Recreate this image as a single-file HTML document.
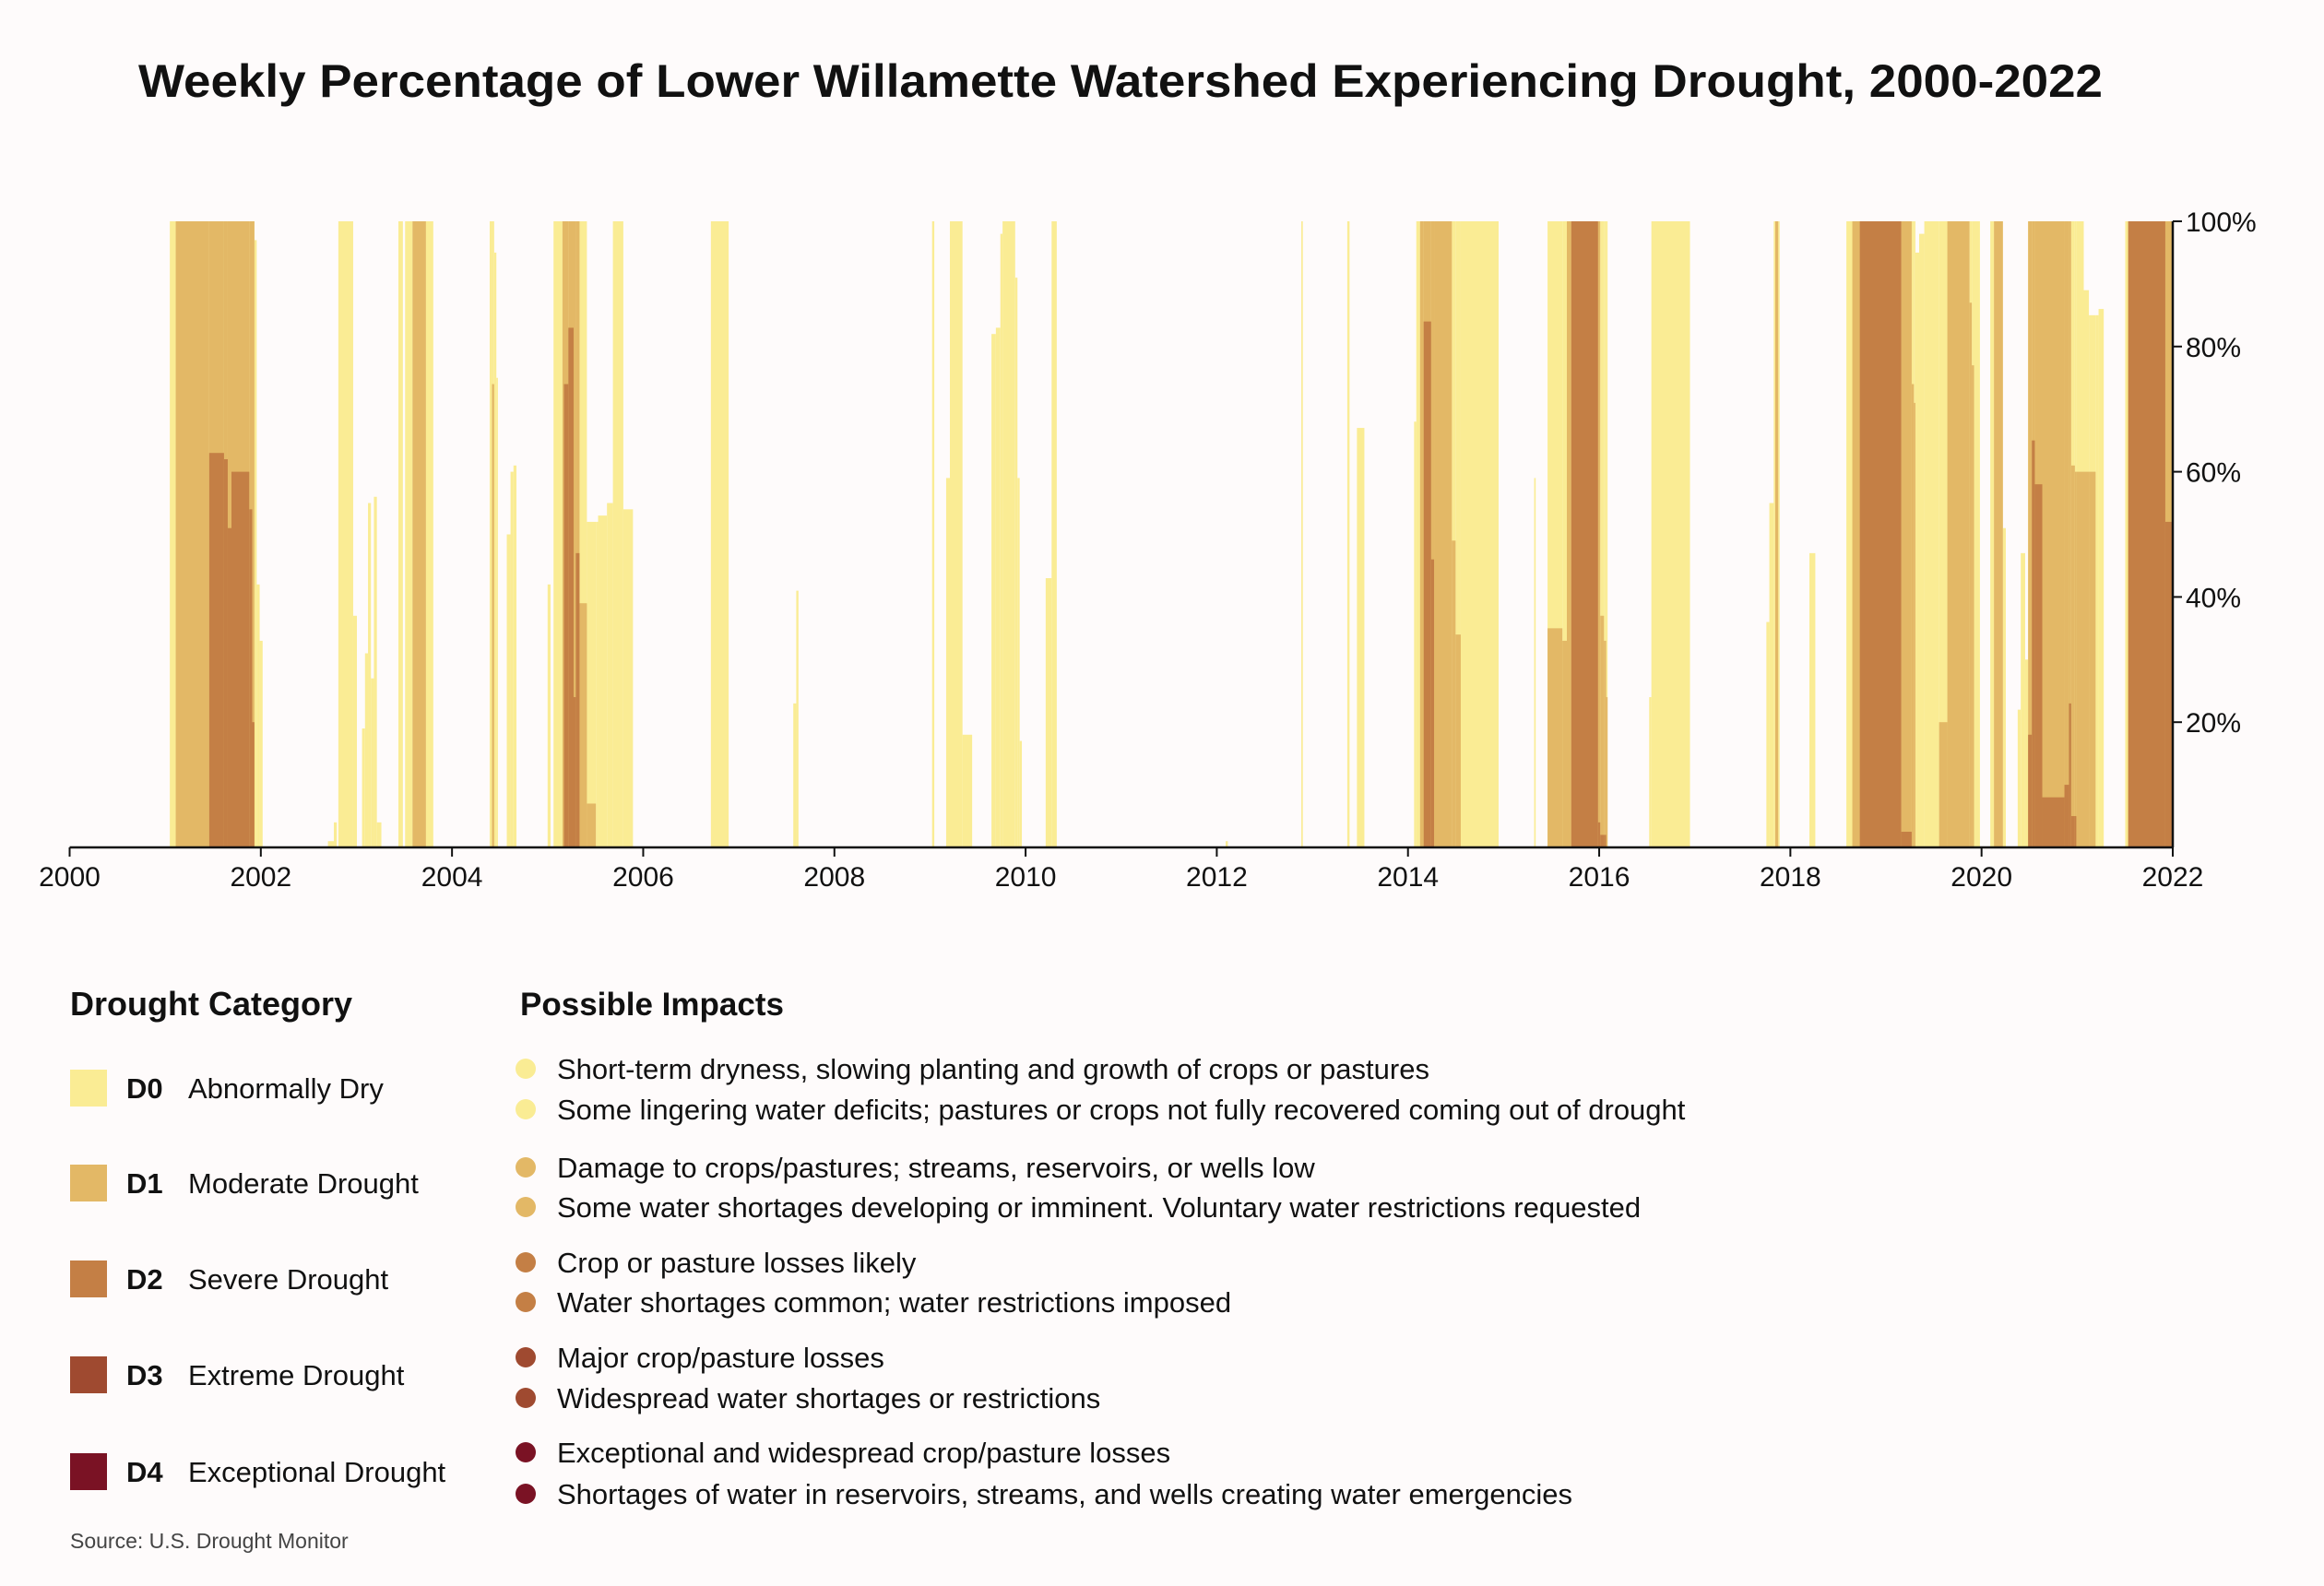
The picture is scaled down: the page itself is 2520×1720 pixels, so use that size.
<!DOCTYPE html>
<html><head><meta charset="utf-8">
<style>
html,body{margin:0;padding:0;background:#fefbfb;}
svg{display:block;font-family:"Liberation Sans",sans-serif;}
</style></head>
<body>
<svg id="chart" width="2520" height="1720" viewBox="0 0 2520 1720" xmlns="http://www.w3.org/2000/svg">
<rect x="0" y="0" width="2520" height="1720" fill="#fefbfb"/>
<text x="1215" y="105" text-anchor="middle" font-size="50" font-weight="bold" fill="#111" textLength="2130" lengthAdjust="spacingAndGlyphs">Weekly Percentage of Lower Willamette Watershed Experiencing Drought, 2000-2022</text>
<g id="bars"></g>
<g id="axes"></g>

<text x="76" y="1101" font-size="36" font-weight="bold" fill="#111">Drought Category</text>
<g><rect x="76" y="1160" width="40" height="40" fill="#faec94"/><text x="137" y="1191" font-size="31" font-weight="bold" fill="#111">D0</text><text x="204" y="1191" font-size="31" fill="#111">Abnormally Dry</text></g>
<g><rect x="76" y="1263" width="40" height="40" fill="#e3b866"/><text x="137" y="1294" font-size="31" font-weight="bold" fill="#111">D1</text><text x="204" y="1294" font-size="31" fill="#111">Moderate Drought</text></g>
<g><rect x="76" y="1367" width="40" height="40" fill="#c47f45"/><text x="137" y="1398" font-size="31" font-weight="bold" fill="#111">D2</text><text x="204" y="1398" font-size="31" fill="#111">Severe Drought</text></g>
<g><rect x="76" y="1471" width="40" height="40" fill="#9f4a30"/><text x="137" y="1502" font-size="31" font-weight="bold" fill="#111">D3</text><text x="204" y="1502" font-size="31" fill="#111">Extreme Drought</text></g>
<g><rect x="76" y="1576" width="40" height="40" fill="#7a1224"/><text x="137" y="1607" font-size="31" font-weight="bold" fill="#111">D4</text><text x="204" y="1607" font-size="31" fill="#111">Exceptional Drought</text></g>

<text x="564" y="1101" font-size="35" font-weight="bold" fill="#111">Possible Impacts</text>
<g font-size="31" fill="#111">
<circle cx="570" cy="1159" r="11" fill="#faec94"/><text x="604" y="1170">Short-term dryness, slowing planting and growth of crops or pastures</text>
<circle cx="570" cy="1203" r="11" fill="#faec94"/><text x="604" y="1214">Some lingering water deficits; pastures or crops not fully recovered coming out of drought</text>
<circle cx="570" cy="1266" r="11" fill="#e3b866"/><text x="604" y="1277">Damage to crops/pastures; streams, reservoirs, or wells low</text>
<circle cx="570" cy="1309" r="11" fill="#e3b866"/><text x="604" y="1320">Some water shortages developing or imminent. Voluntary water restrictions requested</text>
<circle cx="570" cy="1369" r="11" fill="#c47f45"/><text x="604" y="1380">Crop or pasture losses likely</text>
<circle cx="570" cy="1412" r="11" fill="#c47f45"/><text x="604" y="1423">Water shortages common; water restrictions imposed</text>
<circle cx="570" cy="1472" r="11" fill="#9f4a30"/><text x="604" y="1483">Major crop/pasture losses</text>
<circle cx="570" cy="1516" r="11" fill="#9f4a30"/><text x="604" y="1527">Widespread water shortages or restrictions</text>
<circle cx="570" cy="1575" r="11" fill="#7a1224"/><text x="604" y="1586">Exceptional and widespread crop/pasture losses</text>
<circle cx="570" cy="1620" r="11" fill="#7a1224"/><text x="604" y="1631">Shortages of water in reservoirs, streams, and wells creating water emergencies</text>
</g>
<text x="76" y="1679" font-size="23" fill="#444">Source: U.S. Drought Monitor</text>
</svg>
<script>
const runStart=[2001.048,2001.110,2001.460,2001.615,2001.654,2001.693,2001.879,2001.910,2001.933,2001.957,2001.988,2002.702,2002.764,2002.811,2002.966,2003.059,2003.090,2003.121,2003.152,2003.183,2003.214,2003.439,2003.509,2003.587,2003.727,2004.394,2004.418,2004.441,2004.464,2004.573,2004.612,2004.643,2005.000,2005.062,2005.155,2005.171,2005.217,2005.272,2005.295,2005.334,2005.411,2005.505,2005.528,2005.621,2005.683,2005.792,2006.708,2007.570,2007.601,2009.022,2009.169,2009.208,2009.340,2009.643,2009.689,2009.736,2009.759,2009.891,2009.915,2009.938,2010.210,2010.272,2012.093,2012.884,2013.365,2013.466,2014.064,2014.087,2014.126,2014.164,2014.242,2014.273,2014.459,2014.498,2014.552,2015.320,2015.460,2015.615,2015.662,2015.708,2015.988,2016.011,2016.050,2016.073,2016.523,2016.546,2017.749,2017.780,2017.826,2017.842,2017.873,2018.199,2018.586,2018.648,2018.726,2019.160,2019.269,2019.292,2019.308,2019.347,2019.401,2019.556,2019.642,2019.874,2019.898,2019.921,2020.091,2020.130,2020.223,2020.378,2020.410,2020.456,2020.487,2020.526,2020.557,2020.635,2020.867,2020.914,2020.937,2020.976,2020.991,2021.069,2021.123,2021.193,2021.224,2021.503,2021.534,2021.922];
const runEnd=[2001.110,2001.460,2001.615,2001.654,2001.693,2001.879,2001.910,2001.933,2001.957,2001.988,2002.019,2002.764,2002.795,2002.966,2003.005,2003.090,2003.121,2003.152,2003.183,2003.214,2003.261,2003.486,2003.587,2003.727,2003.804,2004.418,2004.441,2004.464,2004.480,2004.612,2004.643,2004.674,2005.031,2005.155,2005.171,2005.217,2005.272,2005.295,2005.334,2005.411,2005.505,2005.528,2005.621,2005.683,2005.792,2005.893,2006.894,2007.601,2007.624,2009.045,2009.208,2009.340,2009.441,2009.689,2009.736,2009.759,2009.891,2009.915,2009.938,2009.961,2010.272,2010.326,2012.116,2012.900,2013.389,2013.544,2014.087,2014.126,2014.164,2014.242,2014.273,2014.459,2014.498,2014.552,2014.948,2015.336,2015.615,2015.662,2015.708,2015.988,2016.011,2016.050,2016.073,2016.088,2016.546,2016.950,2017.780,2017.826,2017.842,2017.873,2017.888,2018.261,2018.648,2018.726,2019.160,2019.269,2019.292,2019.308,2019.347,2019.401,2019.556,2019.642,2019.874,2019.898,2019.921,2019.983,2020.130,2020.223,2020.254,2020.410,2020.456,2020.487,2020.526,2020.557,2020.635,2020.867,2020.914,2020.937,2020.976,2020.991,2021.069,2021.123,2021.193,2021.224,2021.278,2021.534,2021.922,2022.000];
const d0=[100,100,100,100,100,100,100,100,97,42,33,1,4,100,37,19,31,55,27,56,4,100,100,100,100,100,100,95,75,50,60,61,42,100,100,100,100,100,100,100,52,52,53,55,100,54,100,23,41,100,59,100,18,82,83,98,100,91,59,17,43,100,1,100,100,67,68,100,100,100,100,100,100,100,100,59,100,100,100,100,100,100,100,100,24,100,36,55,100,100,100,47,100,100,100,100,100,100,95,98,100,100,100,100,100,100,100,100,51,22,47,30,100,100,100,100,100,100,100,100,100,89,85,85,86,100,100,100];
const d1=[0,100,100,100,100,100,100,100,0,0,0,0,0,0,0,0,0,0,0,0,0,0,0,100,0,0,74,0,0,0,0,0,0,0,100,100,100,100,100,39,7,0,0,0,0,0,0,0,0,0,0,0,0,0,0,0,0,0,0,0,0,0,0,0,0,0,0,0,100,100,100,100,49,34,0,0,35,33,100,100,100,37,33,24,0,0,0,0,0,100,0,0,0,100,100,100,74,71,0,0,0,20,100,87,77,0,0,100,0,0,0,0,100,100,100,100,100,100,61,60,60,60,60,0,0,0,100,100];
const d2=[0,0,63,62,51,60,54,20,0,0,0,0,0,0,0,0,0,0,0,0,0,0,0,0,0,0,0,0,0,0,0,0,0,0,0,74,83,24,47,0,0,0,0,0,0,0,0,0,0,0,0,0,0,0,0,0,0,0,0,0,0,0,0,0,0,0,0,0,0,84,46,0,0,0,0,0,0,0,0,100,4,2,2,0,0,0,0,0,0,0,0,0,0,0,100,2.5,0,0,0,0,0,0,0,0,0,0,0,0,0,0,0,0,18,65,58,8,10,23,5,5,0,0,0,0,0,0,100,52];
const d3=new Array(runStart.length).fill(0);
const xTicks=[2000,2002,2004,2006,2008,2010,2012,2014,2016,2018,2020,2022];
const yTicks=[20,40,60,80,100];

const NS="http://www.w3.org/2000/svg";
const X0=75.5,X1=2356,Y0=919,Y1=240;
function xScale(v){return X0+(v-2000)/22*(X1-X0);}
function yScale(p){return Y0-p/100*(Y0-Y1);}
const bars=document.getElementById('bars');
const series=[[d0,'#faec94','d0'],[d1,'#e3b866','d1'],[d2,'#c47f45','d2'],[d3,'#9f4a30','d3']];
series.forEach(([arr,col,nm])=>{
  for(let i=0;i<runStart.length;i++){
    if(arr[i]<=0)continue;
    const r=document.createElementNS(NS,'rect');
    const xa=xScale(runStart[i]),xb=xScale(runEnd[i]);
    r.setAttribute('x',xa);
    r.setAttribute('width',Math.max(1.5,xb-xa));
    r.setAttribute('y',yScale(arr[i]));
    r.setAttribute('height',Y0-yScale(arr[i]));
    r.setAttribute('fill',col);
    
    
    bars.appendChild(r);
  }
});
const axes=document.getElementById('axes');
function el(tag,attrs,txt){const e=document.createElementNS(NS,tag);for(const k in attrs)e.setAttribute(k,attrs[k]);if(txt!==undefined)e.textContent=txt;axes.appendChild(e);return e;}
const xl=el('line',{x1:X0,x2:X1,y1:Y0,y2:Y0,stroke:'#111','stroke-width':2.5});


const yl=el('line',{x1:X1,x2:X1,y1:Y1,y2:Y0,stroke:'#111','stroke-width':2.5});


xTicks.forEach(t=>{
  const x=xScale(t);
  const tk=el('line',{x1:x,x2:x,y1:Y0,y2:Y0+10,stroke:'#111','stroke-width':2});
  
  
  const lb=el('text',{x:x,y:Y0+42,'text-anchor':'middle','font-size':30,fill:'#111'},String(t));
  
  
});
yTicks.forEach(t=>{
  const y=yScale(t);
  const tk=el('line',{x1:X1,x2:X1+10,y1:y,y2:y,stroke:'#111','stroke-width':2});
  
  
  const lb=el('text',{x:X1+14,y:y+11,'font-size':30,fill:'#111'},t+'%');
  
  
});
</script>
</body></html>
